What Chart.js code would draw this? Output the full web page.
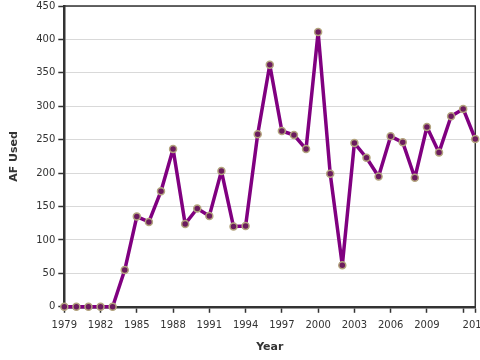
<!DOCTYPE html>
<html>
<head>
<meta charset="utf-8">
<script src="https://cdn.jsdelivr.net/npm/chart.js@4/dist/chart.umd.min.js"></script>
<style>
  html, body { margin: 0; padding: 0; background: #fff; overflow: hidden; }
  #wrap { position: absolute; left: 0; top: 0; width: 495px; height: 360px; }
</style>
</head>
<body>
<div id="wrap"><canvas id="chart"></canvas></div>
<script>
/* AF used per year */
var years  = [1979, 1980, 1981, 1982, 1983, 1984, 1985, 1986, 1987, 1988,
              1989, 1990, 1991, 1992, 1993, 1994, 1995, 1996, 1997, 1998,
              1999, 2000, 2001, 2002, 2003, 2004, 2005, 2006, 2007, 2008,
              2009, 2010, 2011, 2012, 2013];
var afUsed = [0, 0, 0, 0, 0, 55, 135, 127, 173, 236,
              124, 147, 136, 203, 120, 121, 258, 362, 263, 257,
              236, 411, 199, 62, 245, 223, 195, 255, 246, 193,
              269, 231, 285, 296, 251];
var yTicks = [0, 50, 100, 150, 200, 250, 300, 350, 400, 450];

var FONT = 'DejaVu Sans, Verdana, sans-serif';

/* thin frame on top and right of the plot */
var frame = {
  id: 'frame',
  beforeDatasetsDraw: function(chart) {
    var a = chart.chartArea, c = chart.ctx;
    c.save();
    c.strokeStyle = '#333';
    c.lineWidth = 1.5;
    c.beginPath();
    c.moveTo(a.left, a.top);
    c.lineTo(a.right, a.top);
    c.lineTo(a.right, a.bottom);
    c.stroke();
    c.restore();
  }
};

new Chart(document.getElementById('chart'), {
  type: 'line',
  data: {
    datasets: [{
      data: years.map(function(y, i) { return { x: y, y: afUsed[i] }; }),
      borderColor: '#800080',
      borderWidth: 3.5,
      borderJoinStyle: 'round',
      pointRadius: 3.5,
      pointBackgroundColor: '#6b1b5e',
      pointBorderColor: '#b3a47e',
      pointBorderWidth: 1.5,
      tension: 0,
      clip: false
    }]
  },
  options: {
    responsive: true,
    maintainAspectRatio: false,
    animation: false,
    layout: { padding: { left: 4, top: 0, bottom: 2, right: 0 } },
    plugins: { legend: { display: false }, tooltip: { enabled: false } },
    scales: {
      x: {
        type: 'linear',
        min: 1979,
        max: 2013,
        border: { color: '#333', width: 2.5 },
        grid: { drawOnChartArea: false, drawTicks: true, tickLength: 6, tickColor: '#333', tickWidth: 1.5 },
        ticks: {
          stepSize: 3,
          autoSkip: false,
          maxRotation: 0,
          color: '#333',
          font: { family: FONT, size: 10 },
          padding: 7,
          callback: function(v) { return v === 2012 ? '' : String(v); }
        },
        afterBuildTicks: function(s) {
          var t = [];
          for (var y = 1979; y <= 2012; y += 3) t.push({ value: y });
          t.push({ value: 2013 });
          s.ticks = t;
        },
        title: { display: true, text: 'Year', color: '#333', font: { family: FONT, size: 11, weight: 'bold' }, padding: { top: 2 } }
      },
      y: {
        min: 0,
        max: 450,
        border: { color: '#333', width: 2.5 },
        grid: { color: '#d9d9d9', lineWidth: 1, drawTicks: true, tickLength: 6, tickColor: '#333', tickWidth: 1.5 },
        ticks: {
          stepSize: 50,
          color: '#333',
          font: { family: FONT, size: 10, lineHeight: 0.6 },
          padding: 3
        },
        afterBuildTicks: function(s) {
          s.ticks = yTicks.map(function(v) { return { value: v }; });
        },
        title: { display: true, text: 'AF Used', color: '#333', font: { family: FONT, size: 11, weight: 'bold' }, padding: { bottom: 12 } }
      }
    }
  },
  plugins: [frame]
});
</script>
</body>
</html>
